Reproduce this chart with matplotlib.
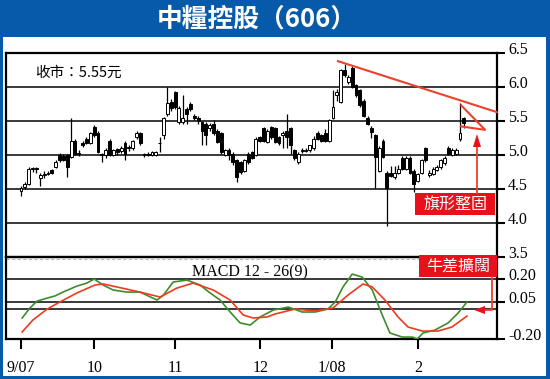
import numpy as np
import matplotlib
matplotlib.use('Agg')
import matplotlib.pyplot as plt
from matplotlib.patches import Rectangle, Polygon
from matplotlib.lines import Line2D
from matplotlib.transforms import ScaledTranslation

W, H = 550, 379

# ---------------- data ----------------
opens = [4.47, 4.53, 4.58, 4.80, 4.80, 4.66, 4.70, 4.72, 4.78, 4.83,
         5.00, 4.99, 5.00, 4.97, 5.21, 5.01, 5.17, 5.24, 5.18, 5.41,
         5.32, 5.01, 5.00, 5.21, 5.00, 5.09, 5.06, 5.18, 5.10, 5.10,
         5.26, 5.32, 5.00, 5.01, 5.00, 5.00, 5.17, 5.29, 5.61, 5.78,
         5.92, 5.48, 5.48, 5.67, 5.75, 5.58, 5.55, 5.48, 5.45, 5.39,
         5.46, 5.36, 5.32, 5.00, 5.08, 5.02, 4.92, 4.89, 4.77, 5.02,
         5.04, 5.00, 5.26, 5.39, 5.19, 5.41, 5.39, 5.26, 5.29, 5.35,
         5.39, 5.07, 4.89, 5.06, 5.08, 5.07, 5.10, 5.33, 5.29, 5.33,
         5.21, 5.55, 5.88, 5.78, 6.25, 6.07, 6.28, 6.03, 5.95, 5.80,
         5.55, 5.40, 5.29, 4.77, 5.21, 4.74, 4.74, 4.67, 4.74, 4.96,
         4.80, 4.96, 4.77, 4.62, 4.74, 5.10, 4.70, 4.72, 4.78, 4.83,
         4.88, 5.11, 5.00, 5.01, 5.23, 5.54]
highs = [4.55, 4.60, 4.83, 4.83, 4.83, 4.74, 4.76, 4.76, 4.80, 4.93,
         5.03, 5.01, 5.02, 5.54, 5.23, 5.08, 5.20, 5.26, 5.34, 5.44,
         5.35, 5.03, 5.10, 5.24, 5.09, 5.11, 5.13, 5.21, 5.15, 5.22,
         5.35, 5.34, 5.03, 5.04, 5.06, 5.06, 5.27, 5.56, 6.00, 5.82,
         5.94, 5.72, 5.88, 5.70, 5.78, 5.60, 5.57, 5.50, 5.48, 5.47,
         5.51, 5.38, 5.34, 5.09, 5.10, 5.04, 4.94, 4.91, 4.94, 5.04,
         5.06, 5.26, 5.28, 5.41, 5.38, 5.43, 5.41, 5.28, 5.35, 5.61,
         5.41, 5.09, 5.04, 5.10, 5.10, 5.15, 5.28, 5.35, 5.31, 5.38,
         5.53, 5.95, 5.97, 6.27, 6.34, 6.17, 6.31, 6.05, 5.97, 5.82,
         5.57, 5.42, 5.31, 5.13, 5.23, 4.76, 4.84, 4.84, 4.85, 4.99,
         4.98, 4.98, 4.79, 4.74, 4.94, 5.12, 4.78, 4.83, 4.85, 4.94,
         4.98, 5.13, 5.10, 5.10, 5.76, 5.56]
lows = [4.40, 4.50, 4.56, 4.75, 4.74, 4.55, 4.66, 4.70, 4.72, 4.81,
        4.90, 4.91, 4.68, 4.95, 5.00, 4.98, 5.12, 5.16, 5.16, 5.27,
        5.03, 4.89, 4.96, 4.98, 4.98, 5.00, 5.03, 4.93, 5.06, 5.08,
        5.24, 5.15, 4.97, 4.98, 4.99, 4.99, 5.05, 5.24, 5.58, 5.65,
        5.68, 5.46, 5.45, 5.45, 5.64, 5.52, 5.46, 5.14, 5.15, 5.36,
        5.30, 5.17, 5.02, 4.98, 4.93, 4.85, 4.60, 4.72, 4.75, 4.87,
        4.94, 4.98, 5.19, 5.19, 5.17, 5.24, 5.17, 5.15, 5.10, 5.10,
        5.02, 4.93, 4.87, 5.03, 5.04, 5.05, 5.08, 5.22, 5.19, 5.19,
        5.19, 5.53, 5.80, 5.76, 6.15, 6.05, 5.98, 5.86, 5.71, 5.56,
        5.44, 5.25, 4.52, 4.75, 4.95, 3.95, 4.67, 4.65, 4.72, 4.78,
        4.78, 4.72, 4.45, 4.60, 4.72, 4.90, 4.68, 4.70, 4.76, 4.80,
        4.86, 5.00, 4.98, 5.00, 5.21, 5.40]
closes = [4.52, 4.57, 4.79, 4.81, 4.79, 4.71, 4.72, 4.74, 4.73, 4.90,
          4.92, 4.93, 4.82, 5.20, 5.02, 5.03, 5.14, 5.18, 5.32, 5.29,
          5.05, 5.00, 5.08, 5.00, 5.07, 5.05, 5.10, 5.02, 5.12, 5.20,
          5.33, 5.17, 5.01, 5.00, 5.04, 5.04, 5.18, 5.54, 5.76, 5.69,
          5.70, 5.69, 5.55, 5.61, 5.67, 5.54, 5.50, 5.36, 5.30, 5.44,
          5.32, 5.19, 5.04, 5.07, 5.00, 4.89, 4.67, 4.75, 4.92, 4.89,
          4.96, 5.24, 5.21, 5.21, 5.36, 5.26, 5.19, 5.17, 5.33, 5.27,
          5.14, 4.96, 5.02, 5.08, 5.06, 5.14, 5.24, 5.24, 5.21, 5.21,
          5.51, 5.70, 5.92, 6.25, 6.17, 6.15, 6.00, 5.88, 5.73, 5.58,
          5.46, 5.34, 4.97, 5.11, 4.97, 4.51, 4.69, 4.74, 4.80, 4.80,
          4.96, 4.74, 4.58, 4.72, 4.92, 4.92, 4.74, 4.80, 4.83, 4.92,
          4.96, 5.02, 5.08, 5.08, 5.33, 5.47]

month_labels = ['9/07', '10', '11', '12', '1/08', '2']
month_pos = [0, 19, 40, 62.1, 80.8, 103.1]

price_ticks = [6.5, 6.0, 5.5, 5.0, 4.5, 4.0, 3.5]
macd_ticks = [0.20, 0.05, -0.20]

dif_x = [0.3, 2.3, 4.2, 6.8, 8.8, 10.9, 12.7, 14.5, 17.1, 19.0, 21.3, 23.9,
         27.5, 30.9, 35.3, 36.9, 39.5, 43.1, 46.5, 49.1, 51.7, 54.3, 56.9,
         59.5, 62.1, 65.5, 69.4, 73.0, 76.4, 79.7, 81.6, 83.6, 86.0, 88.6,
         91.2, 93.8, 95.8, 99.0, 101.6, 102.9, 104.4, 107.5, 110.9, 113.5, 115.8]
dif_v = [-0.06, 0.007, 0.053, 0.073, 0.087, 0.113, 0.133, 0.153, 0.173, 0.20,
         0.16, 0.127, 0.113, 0.113, 0.06, 0.09, 0.18, 0.193, 0.16, 0.107, 0.06,
         -0.02, -0.093, -0.107, -0.053, -0.007, 0.013, -0.02, -0.02, 0.0, 0.047,
         0.147, 0.233, 0.213, 0.127, -0.04, -0.16, -0.187, -0.187, -0.20, -0.16,
         -0.14, -0.093, -0.027, 0.047]
sig_x = [0.3, 3.1, 6.8, 10.1, 14.5, 19.2, 21.3, 24.9, 30.9, 36.1, 40.5, 44.7,
         49.9, 54.3, 57.7, 60.3, 63.9, 66.0, 71.2, 76.4, 81.0, 84.9, 88.8, 91.2,
         94.5, 97.9, 100.5, 104.2, 108.3, 111.9, 115.8]
sig_v = [-0.153, -0.073, 0.0, 0.047, 0.107, 0.16, 0.167, 0.147, 0.113, 0.08,
         0.14, 0.173, 0.127, 0.06, -0.04, -0.06, -0.053, -0.033, 0.0, -0.013,
         0.007, 0.093, 0.167, 0.147, 0.06, -0.053, -0.12, -0.147, -0.147, -0.12,
         -0.047]

trend_x = [82.3, 123.6]
trend_y = [6.38, 5.63]
flag_x = [114.3, 120.5, 114.3]
flag_y = [5.73, 5.37, 5.42]

# ---------------- figure ----------------
BLUE = '#0759AA'
RED = '#E8111B'
LRED = '#F0402A'
SERIF = ['Liberation Serif', 'DejaVu Serif']
CJK = ['Noto Sans CJK TC', 'DejaVu Sans']

fig = plt.figure(figsize=(W / 100, H / 100), dpi=100, facecolor=BLUE)


def fx(x):
    return x / W


def fy(y):
    return 1 - y / H


fig.add_artist(Rectangle((fx(3), fy(376)), fx(546) - fx(3), fy(37) - fy(376),
                         transform=fig.transFigure, facecolor='white',
                         edgecolor='none', zorder=0))

ax1 = fig.add_axes([fx(6), fy(257), fx(497) - fx(6), fy(53) - fy(257)])
ax2 = fig.add_axes([fx(6), fy(339), fx(497) - fx(6), fy(257) - fy(339)], sharex=ax1)
for ax in (ax1, ax2):
    ax.set_facecolor('none')
    for s in ax.spines.values():
        s.set_color('black')
        s.set_linewidth(1.6)

n = len(opens)
idx = np.arange(n)
o = np.array(opens)
c = np.array(closes)
hi = np.array(highs)
lo = np.array(lows)
up = c >= o

# grid lines
for v in [6.0, 5.5, 5.0, 4.5, 4.0]:
    ax1.axhline(v, color='#2a2a2a', lw=1.3, zorder=1)

ax1.vlines(idx, lo, hi, color='black', lw=0.9, zorder=2)
bottoms = np.minimum(o, c)
heights = np.maximum(np.abs(c - o), 0.012)
ax1.bar(idx, heights, bottom=bottoms, width=0.75,
        color=np.where(up, 'white', 'black'), edgecolor='black', lw=0.7, zorder=3)

ax1.set_ylim(3.5, 6.5)
ax1.set_xlim(-3.9, 123.6)
ax1.plot(trend_x, trend_y, color=LRED, lw=1.5, zorder=4, clip_on=False)
ax1.plot(flag_x, flag_y, color=LRED, lw=1.5, zorder=4)

# MACD
for v in [0.20, 0.05, 0.0]:
    ax2.axhline(v, color='#2a2a2a', lw=1.3, zorder=1)
ax2.axhline(0.333, color='#bbbbbb', lw=0.8, ls=(0, (3, 2)), zorder=1)
ax2.plot(dif_x, dif_v, color='#3C8C2E', lw=1.2, zorder=3)
ax2.plot(sig_x, sig_v, color='#F03A1E', lw=1.2, zorder=3)
ax2.set_ylim(-0.20, 0.347)

# ticks
off = ScaledTranslation(0, 5 / 100, fig.dpi_scale_trans)
ax1.yaxis.tick_right()
ax1.set_yticks(price_ticks)
ax1.set_yticklabels(['%.1f' % v for v in price_ticks])
ax2.yaxis.tick_right()
ax2.set_yticks(macd_ticks)
ax2.set_yticklabels(['%.2f' % v for v in macd_ticks])
for ax in (ax1, ax2):
    ax.tick_params(axis='y', direction='out', length=6, width=1.5, pad=2,
                   labelsize=11.5, colors='black')
    for lab in ax.get_yticklabels():
        lab.set_family(SERIF)
        lab.set_transform(lab.get_transform() + off)
ax1.tick_params(axis='x', bottom=False, labelbottom=False)
ax2.set_xticks(month_pos)
ax2.set_xticklabels(month_labels)
ax2.tick_params(axis='x', direction='out', length=7, width=1.5, pad=8,
                labelsize=11.5)
for lab in ax2.get_xticklabels():
    lab.set_family(SERIF)

# texts
fig.text(fx(257), fy(19), '中糧控股（606）', color='white', fontsize=18.5,
         fontweight='black', family=CJK, ha='center', va='center')
fig.text(fx(35), fy(73), '收市：5.55元', color='black', fontsize=10.5,
         family=CJK, ha='left', va='center')
fig.text(fx(250), fy(272), 'MACD 12 - 26(9)', color='black', fontsize=11.5,
         family=SERIF, ha='center', va='center')

# annotation boxes
for (x0, y0, x1, y1, t) in [(415, 193, 495, 215, '旗形整固'),
                            (419, 255, 497, 277, '牛差擴闊')]:
    fig.add_artist(Rectangle((fx(x0), fy(y1)), fx(x1) - fx(x0), fy(y0) - fy(y1),
                             transform=fig.transFigure, facecolor=RED,
                             edgecolor='none', zorder=6))
    fig.text(fx((x0 + x1) / 2), fy((y0 + y1) / 2), t, color='white', fontsize=11.5,
             family=CJK, ha='center', va='center', zorder=7)

# up arrow
fig.add_artist(Line2D([fx(477), fx(477)], [fy(193), fy(145)],
                      transform=fig.transFigure, color=LRED, lw=1.3, zorder=6))
fig.add_artist(Polygon([(fx(477), fy(134)), (fx(473), fy(147)), (fx(481), fy(147))],
                       closed=True, transform=fig.transFigure, facecolor=RED,
                       edgecolor='none', zorder=6))
# left arrow
fig.add_artist(Line2D([fx(492), fx(492), fx(484)], [fy(277), fy(310), fy(310)],
                      transform=fig.transFigure, color=LRED, lw=1.3, zorder=6))
fig.add_artist(Polygon([(fx(474), fy(310)), (fx(485), fy(306)), (fx(485), fy(314))],
                       closed=True, transform=fig.transFigure, facecolor=RED,
                       edgecolor='none', zorder=6))

fig.savefig('out.png', dpi=100, facecolor=BLUE)
